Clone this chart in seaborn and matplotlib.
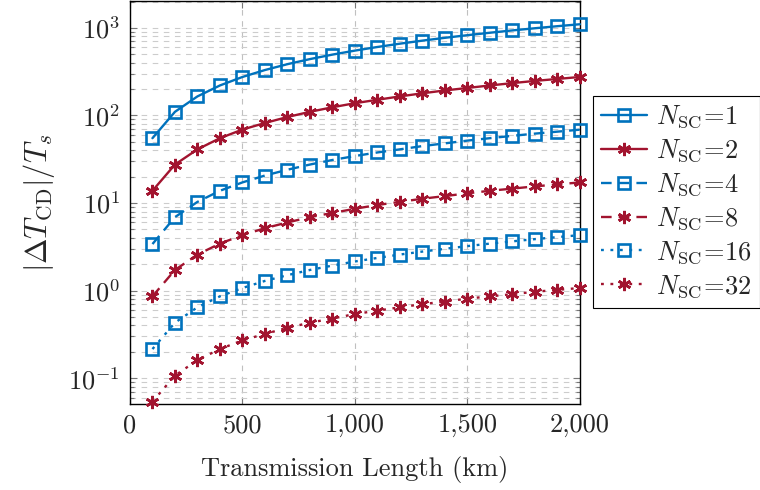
import numpy as np
import pandas as pd
import matplotlib
matplotlib.use("Agg")
import matplotlib.pyplot as plt
import matplotlib.ticker as mticker
import seaborn as sns

length_km = [100, 200, 300, 400, 500, 600, 700, 800, 900, 1000,
             1100, 1200, 1300, 1400, 1500, 1600, 1700, 1800, 1900, 2000]
n1 = [55, 110, 165, 220, 275, 330, 385, 440, 495, 550, 605, 660, 715, 770, 825, 880, 935, 990, 1045, 1100]
n2 = [13.8, 27.5, 41, 55, 69, 82, 96, 110, 124, 138, 151, 165, 179, 193, 206, 220, 234, 248, 261, 275]
n4 = [3.4, 6.9, 10.3, 13.8, 17.2, 20.6, 24, 27.5, 31, 34.4, 37.8, 41, 44.7, 48, 51.6, 55, 58.5, 62, 65.3, 68.8]
n8 = [0.86, 1.72, 2.58, 3.44, 4.3, 5.16, 6.0, 6.9, 7.7, 8.6, 9.5, 10.3, 11.2, 12.0, 12.9, 13.8, 14.6, 15.5, 16.3, 17.2]
n16 = [0.215, 0.43, 0.645, 0.86, 1.07, 1.29, 1.5, 1.72, 1.93, 2.15, 2.36, 2.58, 2.79, 3.0, 3.22, 3.44, 3.65, 3.87, 4.08, 4.3]
n32 = [0.054, 0.107, 0.161, 0.215, 0.27, 0.32, 0.376, 0.43, 0.48, 0.54, 0.59, 0.645, 0.70, 0.75, 0.81, 0.86, 0.91, 0.97, 1.02, 1.07]
labels = [r"$N_{\mathrm{SC}}\!=\!1$", r"$N_{\mathrm{SC}}\!=\!2$", r"$N_{\mathrm{SC}}\!=\!4$",
          r"$N_{\mathrm{SC}}\!=\!8$", r"$N_{\mathrm{SC}}\!=\!16$", r"$N_{\mathrm{SC}}\!=\!32$"]
series = [n1, n2, n4, n8, n16, n32]

sns.set_style("ticks")
plt.rcParams.update({
    "font.family": ["cmr10", "DejaVu Serif"],
    "mathtext.fontset": "cm",
    "axes.unicode_minus": False,
    "axes.formatter.use_mathtext": True,
    "axes.linewidth": 1.0,
    "axes.edgecolor": "#000000",
})

blue = "#0072BD"
red = "#A2142F"
dot = (0, (1.2, 2.8))
dash = (0, (4.5, 3))
styles = [
    dict(color=blue, linestyle="-", marker="s"),
    dict(color=red, linestyle="-", marker=(6, 2, 0)),
    dict(color=blue, linestyle=dash, marker="s"),
    dict(color=red, linestyle=dash, marker=(6, 2, 0)),
    dict(color=blue, linestyle=dot, marker="s"),
    dict(color=red, linestyle=dot, marker=(6, 2, 0)),
]

fig = plt.figure(figsize=(7.6, 4.9), dpi=100)
ax = fig.add_axes([0.171, 0.1755, 0.592, 0.8225])

for vals, lab, st in zip(series, labels, styles):
    df = pd.DataFrame({"L": length_km, "v": vals})
    sns.lineplot(data=df, x="L", y="v", ax=ax, color=st["color"], linestyle=st["linestyle"],
                 marker=st["marker"], markersize=8.5 if st["marker"] == "s" else 9.5,
                 markerfacecolor="none", markeredgecolor=st["color"], markeredgewidth=1.9,
                 linewidth=1.7, clip_on=False, zorder=3, label=lab)
ax.set_yscale("log")
ax.set_xlim(0, 2000)
ax.set_ylim(10 ** -1.295, 10 ** 3.307)
ax.set_xticks([0, 500, 1000, 1500, 2000])
ax.xaxis.set_major_formatter(mticker.FuncFormatter(lambda v, p: f"{int(v):,}"))
ax.yaxis.set_major_locator(mticker.LogLocator(base=10, numticks=10))
ax.yaxis.set_minor_locator(mticker.LogLocator(base=10, subs=np.arange(2, 10), numticks=20))
ax.yaxis.set_minor_formatter(mticker.NullFormatter())

ax.grid(which="major", axis="x", color="#c0c0c0", linestyle=(0, (5, 5)), linewidth=0.8)
ax.grid(which="both", axis="y", color="#cccccc", linestyle=(0, (5, 5)), linewidth=0.8)
ax.set_axisbelow(True)
ax.tick_params(which="both", direction="in", top=True, right=True, labelsize=19, pad=7)
ax.tick_params(which="major", length=5, width=0.8, color="#777777")
ax.tick_params(which="minor", length=3, width=0.8, color="#777777")
for s in ax.spines.values():
    s.set_linewidth(1.0)

ax.set_xlabel("Transmission Length (km)", fontsize=19, labelpad=13)
ax.set_ylabel(r"$|\Delta T_{\mathrm{CD}}|/T_s$", fontsize=22, labelpad=8)
if ax.get_legend() is not None:
    ax.get_legend().remove()
h, l = ax.get_legend_handles_labels()
leg = fig.legend(h, l, loc="center left", bbox_to_anchor=(0.78, 0.588), fontsize=19,
                 frameon=True, fancybox=False, edgecolor="#000000", framealpha=1,
                 handlelength=1.75, labelspacing=0.27, borderpad=0.3, handletextpad=0.35,
                 borderaxespad=0.0)
leg.get_frame().set_linewidth(0.8)

fig.savefig("out.png", dpi=100)
